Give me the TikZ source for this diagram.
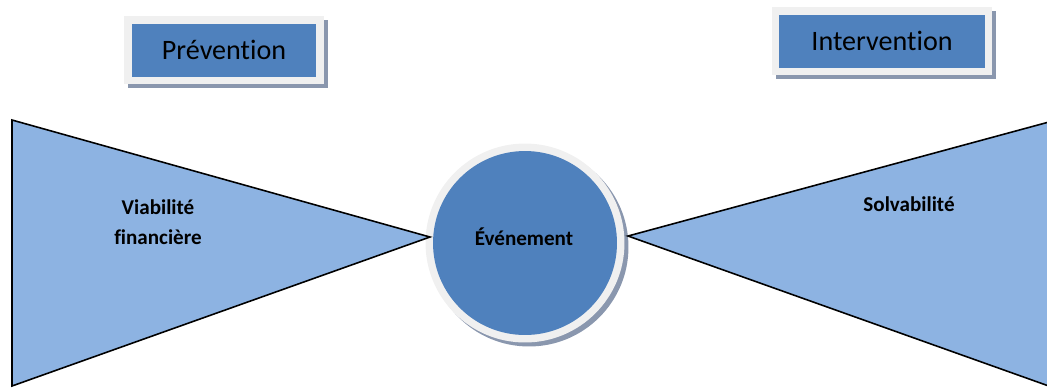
\documentclass[tikz,border=0pt]{standalone}
\usepackage{fontspec}
\setmainfont{Carlito}[Ligatures=NoCommon]
\usepackage{tikz}
\usetikzlibrary{positioning,calc}
\usepackage{xcolor}
\definecolor{boxblue}{RGB}{79,129,189}
\definecolor{wingblue}{RGB}{141,179,226}
\definecolor{framegray}{RGB}{240,240,240}
\definecolor{shadowgray}{RGB}{138,151,174}

\tikzset{
    framed/.style={
        preaction={draw=shadowgray,fill=shadowgray,line width=0.3cm,
            transform canvas={shift={(0.08cm,-0.08cm)}}},
        preaction={draw=framegray,line width=0.3cm},
        fill=boxblue},
    phasebox/.style={framed,rectangle,inner sep=0pt,
        minimum width=3.7cm,minimum height=1.06cm,font=\fontsize{16}{19}\selectfont},
    eventdisc/.style={framed,circle,inner sep=0pt,minimum size=3.68cm,
        font=\fontsize{12}{14}\selectfont\bfseries},
    wing/.style={fill=wingblue,draw=black,line width=0.9pt,line join=miter},
    winglabel/.style={align=center,font=\fontsize{12}{17}\selectfont\bfseries}
}

\begin{document}
\begin{tikzpicture}[x=0.02cm,y=-0.02cm]
        \useasboundingbox (0,0) rectangle (1047,387);

        % Phase labels
        \node[phasebox] (prevention) at (224,50) {Prévention};
        \node[phasebox,minimum width=4.12cm] (intervention) at (882,41) {Intervention};

        % Event in the middle
        \node[eventdisc] (event) at (525,243) {};

        % Wings on both sides of the event
        \coordinate (leftapex) at (430,237);
        \coordinate (rightapex) at (628,236);
        \begin{scope}
            \clip (0,0) rectangle (1047,387);
            \draw[wing] (12,120) -- (leftapex) -- (12,386) -- cycle;
            \draw[wing] (1060,119) -- (rightapex) -- (1060,390) -- cycle;
        \end{scope}

        \node[font=\fontsize{12}{14}\selectfont\bfseries] (eventtext) at (524,237) {Événement};
        \node[winglabel] (viability) at (158,222) {Viabilité\\financière};
        \node[winglabel] (solvency) at (909,204) {Solvabilité};
    \end{tikzpicture}
\end{document}
